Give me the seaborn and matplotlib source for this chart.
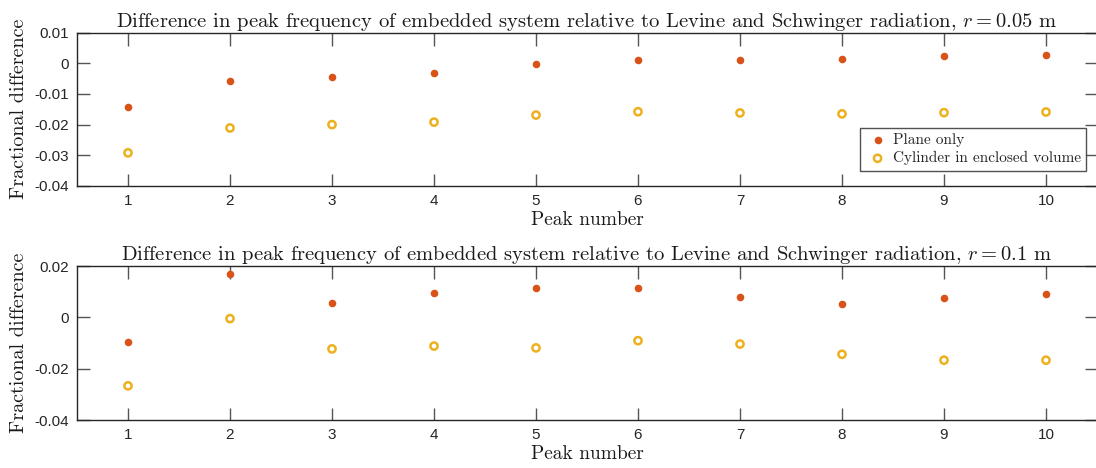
import matplotlib
matplotlib.use("Agg")
import matplotlib.pyplot as plt
import seaborn as sns
import pandas as pd

# peak indices
peaks = [1, 2, 3, 4, 5, 6, 7, 8, 9, 10]

# r = 0.05 m
plane_005 = [-0.0142, -0.0058, -0.0045, -0.0031, -0.0001, 0.0010, 0.0010, 0.0015, 0.0023, 0.0028]
cyl_005 = [-0.0292, -0.0211, -0.0200, -0.0192, -0.0169, -0.0158, -0.0162, -0.0165, -0.0161, -0.0159]

# r = 0.1 m
plane_01 = [-0.0098, 0.0168, 0.0056, 0.0093, 0.0115, 0.0113, 0.0080, 0.0053, 0.0075, 0.0091]
cyl_01 = [-0.0267, -0.0005, -0.0123, -0.0112, -0.0119, -0.0091, -0.0104, -0.0144, -0.0167, -0.0167]

yticks_top = [-0.04, -0.03, -0.02, -0.01, 0, 0.01]
ytick_labels_top = ["-0.04", "-0.03", "-0.02", "-0.01", "0", "0.01"]
yticks_bot = [-0.04, -0.02, 0, 0.02]
ytick_labels_bot = ["-0.04", "-0.02", "0", "0.02"]

titles = [
    "Difference in peak frequency of embedded system relative to Levine and Schwinger radiation, $r = 0.05$ m",
    "Difference in peak frequency of embedded system relative to Levine and Schwinger radiation, $r = 0.1$ m",
]

sns.set_theme(style="white")
plt.rcParams["mathtext.fontset"] = "cm"
plt.rcParams["axes.formatter.use_mathtext"] = True

ORANGE = "#D95319"
YELLOW = "#EDB120"
W, H = 1096, 468

fig = plt.figure(figsize=(W / 100, H / 100), dpi=100)
ax_top = fig.add_axes([77 / W, 1 - 186 / H, 1020 / W, 153.5 / H])
ax_bot = fig.add_axes([77 / W, 1 - 420 / H, 1020 / W, 154 / H])

panels = [
    (ax_top, plane_005, cyl_005, yticks_top, ytick_labels_top, (-0.04, 0.01)),
    (ax_bot, plane_01, cyl_01, yticks_bot, ytick_labels_bot, (-0.04, 0.02)),
]

for i, (ax, plane, cyl, yt, ytl, ylim) in enumerate(panels):
    df = pd.DataFrame({"peak": peaks, "plane": plane, "cyl": cyl})
    sns.scatterplot(data=df, x="peak", y="plane", ax=ax, color=ORANGE,
                    marker="o", s=30, linewidth=0, label="Plane only")
    sns.scatterplot(data=df, x="peak", y="cyl", ax=ax, marker="o", s=27,
                    facecolor="none", edgecolor=YELLOW, linewidth=1.8,
                    label="Cylinder in enclosed volume")

    ax.set_xlim(0.5, 10.5)
    ax.set_ylim(*ylim)
    ax.set_xticks(peaks)
    ax.set_xticklabels([str(p) for p in peaks], fontsize=11, family="Liberation Sans", color="#262626")
    ax.set_yticks(yt)
    ax.set_yticklabels(ytl, fontsize=11, family="Liberation Sans", color="#262626")
    ax.tick_params(direction="in", length=9, width=1, color="#555555",
                   top=True, right=True, bottom=True, left=True, pad=6)

    for sp in ax.spines.values():
        sp.set_color("#262626")
        sp.set_linewidth(1.0)

    ax.set_title(titles[i], family="cmr10", fontsize=14.8, pad=4, color="#1a1a1a")
    ax.set_xlabel("Peak number", family="cmr10", fontsize=14, labelpad=2, color="#1a1a1a")
    ax.set_ylabel("Fractional difference", family="cmr10", fontsize=14.5, color="#1a1a1a")
    ax.yaxis.set_label_coords(-0.048, 0.5)
    ax.grid(False)

    if i == 0:
        leg = ax.legend(loc="lower right", bbox_to_anchor=(0.9895, 0.1), frameon=True,
                        prop={"family": "cmr10", "size": 11}, handletextpad=0.2,
                        borderpad=0.35, labelspacing=0.25, fancybox=False,
                        handlelength=1.6, borderaxespad=0)
        leg.get_frame().set_edgecolor("#262626")
        leg.get_frame().set_linewidth(1.0)
    else:
        ax.get_legend().remove()

fig.savefig("out.png", dpi=100)
